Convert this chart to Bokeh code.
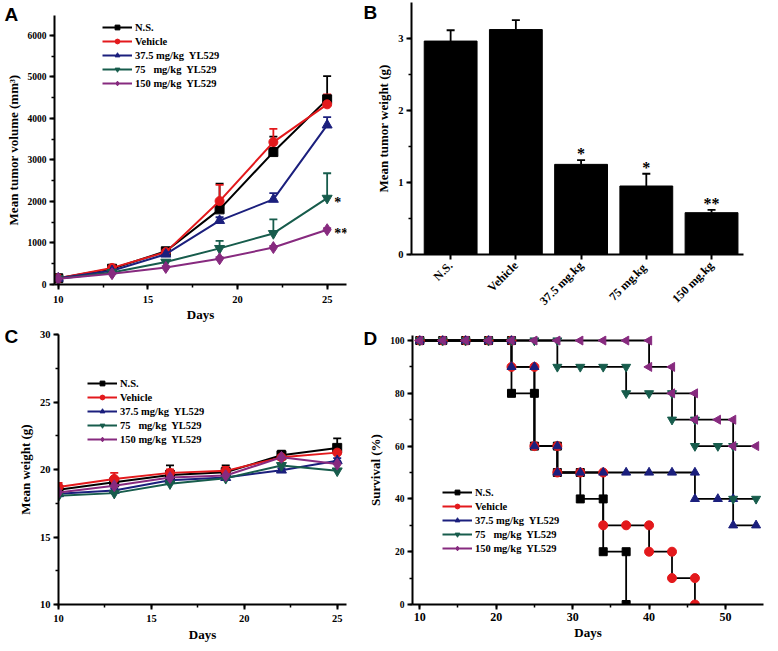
import math
from bokeh.plotting import figure
from bokeh.models import (ColumnDataSource, Whisker, TeeHead, Legend, LegendItem, Label,
                          SingleIntervalTicker, FixedTicker, Range1d)
from bokeh.layouts import column, row
from bokeh.embed import file_html
from bokeh.resources import INLINE
from bokeh.core.properties import value

# ---------------- data ----------------
series_names = ["N.S.", "Vehicle", "37.5 mg/kg  YL529", "75   mg/kg  YL529", "150 mg/kg  YL529"]

# Panel A: tumor volume (mm3)
days = [10, 13, 16, 19, 22, 25]
vol_ns = [150, 380, 800, 1810, 3190, 4460]
vol_vehicle = [150, 400, 780, 2010, 3430, 4340]
vol_375 = [150, 330, 730, 1540, 2050, 3840]
vol_75 = [140, 290, 540, 870, 1230, 2080]
vol_150 = [140, 260, 410, 620, 890, 1320]
vol_ns_err = [190, 420, 880, 2430, 3560, 5020]
vol_vehicle_err = [190, 440, 830, 2400, 3750, 4580]
vol_375_err = [180, 360, 790, 1620, 2200, 4030]
vol_75_err = [170, 320, 580, 1050, 1570, 2680]
vol_150_err = [160, 280, 440, 660, 930, 1360]
vol_stars = ["", "", "", "*", "**"]

# Panel B: tumor weight (g)
groups_b = ["N.S.", "Vehicle", "37.5 mg.kg", "75  mg.kg", "150 mg.kg"]
weight = [2.96, 3.12, 1.25, 0.95, 0.58]
weight_err = [3.11, 3.25, 1.31, 1.12, 0.62]
weight_stars = ["", "", "*", "*", "**"]

# Panel C: body weight (g)
bw_ns = [18.5, 19.05, 19.6, 19.8, 21.05, 21.6]
bw_vehicle = [18.7, 19.3, 19.75, 19.9, 20.9, 21.25]
bw_375 = [18.2, 18.45, 19.2, 19.4, 19.95, 20.65]
bw_75 = [18.05, 18.25, 18.95, 19.35, 20.3, 19.9]
bw_150 = [18.3, 18.8, 19.4, 19.55, 20.9, 20.4]
bw_ns_err = [18.7, 19.3, 20.3, 20.3, 21.4, 22.3]
bw_vehicle_err = [19.0, 19.75, 20.0, 20.2, 21.2, 21.6]
bw_375_err = [18.35, 18.6, 19.4, 19.55, 20.1, 20.85]
bw_75_err = [18.2, 18.4, 19.1, 19.5, 20.45, 20.05]
bw_150_err = [18.45, 19.0, 19.6, 19.7, 21.1, 20.6]

# Panel D: survival (%)
surv_ns_days = [10, 13, 16, 19, 22, 22, 25, 25, 28, 28, 31, 31, 34, 34, 37, 37]
surv_ns = [100, 100, 100, 100, 100, 80, 80, 60, 60, 50, 50, 40, 40, 20, 20, 0]
surv_vehicle_days = [10, 13, 16, 19, 22, 22, 25, 25, 28, 28, 31, 34, 34, 37, 40, 40, 43, 43, 46, 46]
surv_vehicle = [100, 100, 100, 100, 100, 90, 90, 60, 60, 50, 50, 50, 30, 30, 30, 20, 20, 10, 10, 0]
surv_375_days = [10, 13, 16, 19, 22, 22, 25, 25, 28, 28, 31, 34, 37, 40, 43, 46, 46, 49, 51, 51, 54]
surv_375 = [100, 100, 100, 100, 100, 90, 90, 60, 60, 50, 50, 50, 50, 50, 50, 50, 40, 40, 40, 30, 30]
surv_75_days = [10, 13, 16, 19, 22, 25, 28, 28, 31, 34, 37, 37, 40, 43, 43, 46, 46, 49, 51, 51, 54]
surv_75 = [100, 100, 100, 100, 100, 100, 100, 90, 90, 90, 90, 80, 80, 80, 70, 70, 60, 60, 60, 40, 40]
surv_150_days = [10, 13, 16, 19, 22, 25, 28, 31, 34, 37, 40, 40, 43, 43, 46, 46, 49, 51, 51, 54]
surv_150 = [100, 100, 100, 100, 100, 100, 100, 100, 100, 100, 100, 90, 90, 80, 80, 70, 70, 70, 60, 60]

# ---------------- styles ----------------
colors = ["#000000", "#e3191c", "#1b1f7d", "#175c4c", "#872a7f"]
markers = ["square", "circle", "triangle", "inverted_triangle", "diamond"]
msizes = [9, 9, 10, 10, 12]
SERIF = "Liberation Serif"
SANS = "Liberation Sans"


def style(p, xfs, yfs, lfs="13px"):
    p.grid.visible = False
    p.outline_line_color = None
    p.background_fill_color = "white"
    p.border_fill_color = "white"
    for ax in p.axis:
        ax.axis_line_width = 2
        ax.axis_line_color = "black"
        ax.major_tick_line_width = 2
        ax.major_tick_in = 0
        ax.major_tick_out = 5
        ax.minor_tick_in = 0
        ax.minor_tick_out = 3
        ax.minor_tick_line_width = 1.5
        ax.major_label_text_font = SERIF
        ax.major_label_text_font_style = "bold"
        ax.major_label_text_color = "black"
        ax.axis_label_text_font = SERIF
        ax.axis_label_text_font_style = "bold"
        ax.axis_label_text_font_size = lfs
        ax.axis_label_text_color = "black"
        ax.major_label_standoff = 3
        ax.axis_label_standoff = 4
    p.xaxis.major_label_text_font_size = xfs
    p.yaxis.major_label_text_font_size = yfs


def letter(p, txt, x, y):
    # placed in the right side panel so that it is not clipped to the frame
    p.add_layout(Label(x=x, y=y, x_units="screen", y_units="screen", text=txt,
                       text_font=SANS, text_font_style="bold", text_font_size="19px",
                       text_baseline="alphabetic", text_align="left", text_color="black"),
                 "right")


def make_legend(items, loc):
    return Legend(items=items, location=loc, orientation="vertical",
                  background_fill_alpha=0, border_line_color=None, padding=0, margin=0,
                  spacing=2, glyph_width=30, glyph_height=12, label_height=12,
                  label_standoff=3, label_text_font=SERIF, label_text_font_style="bold",
                  label_text_font_size="10.5px", label_text_color="black")


def line_panel(p, ys, errs):
    items = []
    for i, (y, e) in enumerate(zip(ys, errs)):
        src = ColumnDataSource(dict(x=days, y=y, e=e))
        w = Whisker(base="x", lower="y", upper="e", source=src, dimension="height",
                    line_color=colors[i], line_width=1.8,
                    upper_head=TeeHead(size=8, line_color=colors[i], line_width=1.8),
                    lower_head=None)
        p.add_layout(w)
        rl = p.line("x", "y", source=src, line_color=colors[i], line_width=2)
        rs = p.scatter("x", "y", source=src, marker=markers[i], size=msizes[i],
                       fill_color=colors[i], line_color=colors[i])
        items.append(LegendItem(label=series_names[i], renderers=[rl, rs]))
    return items


common = dict(output_backend="svg", toolbar_location=None, frame_align=False)

# ---------------- Panel A ----------------
pA = figure(width=360, height=326, x_range=Range1d(9.79, 26.08), y_range=Range1d(0, 6480),
            min_border_left=54, min_border_right=14, min_border_top=15, min_border_bottom=42,
            **common)
style(pA, "10.5px", "9.5px")
pA.xaxis.ticker = SingleIntervalTicker(interval=5, num_minor_ticks=2)
pA.yaxis.ticker = SingleIntervalTicker(interval=1000, num_minor_ticks=2)
pA.xaxis.axis_label = "Days"
pA.xaxis.major_label_standoff = 6
pA.xaxis.axis_label_standoff = 1
pA.yaxis.axis_label = "Mean tumor volume (mm³)"
itemsA = line_panel(pA, [vol_ns, vol_vehicle, vol_375, vol_75, vol_150],
                    [vol_ns_err, vol_vehicle_err, vol_375_err, vol_75_err, vol_150_err])
pA.add_layout(make_legend(itemsA, (48, 195)))
last_vals = [s[-1] for s in [vol_ns, vol_vehicle, vol_375, vol_75, vol_150]]
pA.text(x=[days[-1]] * 5, y=last_vals, text=vol_stars, text_font=value(SERIF),
        text_font_style="bold", text_font_size="14px", text_align="left",
        text_baseline="middle", x_offset=7, y_offset=4, text_color="black")
letter(pA, "A", -342, 270)

# ---------------- Panel B ----------------
xb = list(range(len(groups_b)))
pB = figure(width=417, height=326, x_range=Range1d(-0.6, 4.49), y_range=Range1d(0, 3.495),
            min_border_left=51, min_border_right=34, min_border_top=2, min_border_bottom=72,
            **common)
style(pB, "12px", "10.5px")
pB.xaxis.ticker = FixedTicker(ticks=xb)
pB.xaxis.major_label_overrides = {i: g for i, g in zip(xb, groups_b)}
pB.xaxis.major_label_orientation = math.pi / 4
pB.xaxis.major_label_standoff = 4
pB.yaxis.ticker = SingleIntervalTicker(interval=1, num_minor_ticks=2)
pB.yaxis.axis_label = "Mean tumor weight (g)"
srcB = ColumnDataSource(dict(x=xb, top=weight, e=weight_err, s=weight_stars))
pB.vbar(x="x", top="top", width=0.81, source=srcB, fill_color="black", line_color="black")
pB.add_layout(Whisker(base="x", lower="top", upper="e", source=srcB, dimension="height",
                      line_color="black", line_width=1.8,
                      upper_head=TeeHead(size=8, line_color="black", line_width=1.8),
                      lower_head=None))
pB.text(x="x", y="e", text="s", source=srcB, text_font=value(SERIF), text_font_style="bold",
        text_font_size="16px", text_align="center", text_baseline="bottom", y_offset=2,
        text_color="black")
letter(pB, "B", -380, 242)

# ---------------- Panel C ----------------
pC = figure(width=360, height=324, x_range=Range1d(10, 25.5), y_range=Range1d(10, 30),
            min_border_left=58, min_border_right=14, min_border_top=8, min_border_bottom=46,
            **common)
style(pC, "10.5px", "10.5px")
pC.xaxis.ticker = SingleIntervalTicker(interval=5, num_minor_ticks=2)
pC.yaxis.ticker = SingleIntervalTicker(interval=5, num_minor_ticks=2)
pC.xaxis.axis_label = "Days"
pC.yaxis.axis_label = "Mean weight (g)"
pC.xaxis.major_label_standoff = 5
pC.xaxis.axis_label_standoff = 2
itemsC = line_panel(pC, [bw_ns, bw_vehicle, bw_375, bw_75, bw_150],
                    [bw_ns_err, bw_vehicle_err, bw_375_err, bw_75_err, bw_150_err])
pC.add_layout(make_legend(itemsC, (29, 159)))
letter(pC, "C", -342, 268)

# ---------------- Panel D ----------------
pD = figure(width=417, height=324, x_range=Range1d(9.05, 54.97), y_range=Range1d(0, 101.9),
            min_border_left=52, min_border_right=14, min_border_top=9, min_border_bottom=46,
            **common)
style(pD, "12px", "9.5px")
pD.xaxis.ticker = SingleIntervalTicker(interval=10, num_minor_ticks=2)
pD.yaxis.ticker = SingleIntervalTicker(interval=20, num_minor_ticks=2)
pD.xaxis.axis_label = "Days"
pD.yaxis.axis_label = "Survival (%)"
pD.xaxis.major_label_standoff = 3
pD.xaxis.axis_label_standoff = 1
surv_x = [surv_ns_days, surv_vehicle_days, surv_375_days, surv_75_days, surv_150_days]
surv_y = [surv_ns, surv_vehicle, surv_375, surv_75, surv_150]
d_markers = ["square", "circle", "triangle", "inverted_triangle", "triangle"]
d_angles = [0, 0, 0, 0, math.pi / 2]
d_sizes = [8, 9, 9, 9, 9]
for i in range(5):
    pD.line(surv_x[i], surv_y[i], line_color="black", line_width=1.8)
for i in range(5):
    pD.scatter(surv_x[i], surv_y[i], marker=d_markers[i], angle=d_angles[i], size=d_sizes[i],
               fill_color=colors[i], line_color=colors[i])
itemsD = []
nan = float("nan")
for i in range(5):
    legend_src = ColumnDataSource(dict(x=[nan], y=[nan]))
    rl = pD.line("x", "y", source=legend_src, line_color=colors[i], line_width=2)
    rs = pD.scatter("x", "y", source=legend_src, marker=markers[i], size=msizes[i],
                    fill_color=colors[i], line_color=colors[i])
    itemsD.append(LegendItem(label=series_names[i], renderers=[rl, rs]))
pD.add_layout(make_legend(itemsD, (30, 50)))
letter(pD, "D", -400, 266)

layout = column(row(pA, pB), row(pC, pD))
open("out.html", "w").write(file_html(layout, INLINE))
